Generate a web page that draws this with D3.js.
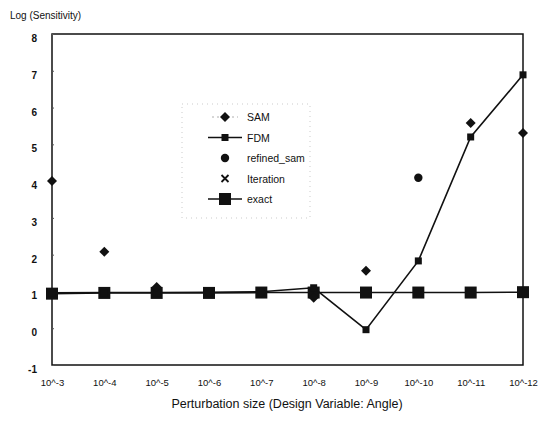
<!DOCTYPE html>
<html><head><meta charset="utf-8">
<script src="https://cdn.jsdelivr.net/npm/d3@7"></script>
<style>body{margin:0;background:#fff}svg{display:block}text{font-family:"Liberation Sans",Arial,sans-serif;fill:#111}</style>
</head><body><svg id="c" width="553" height="423"></svg>
<script>
const categories = ["10^-3","10^-4","10^-5","10^-6","10^-7","10^-8","10^-9","10^-10","10^-11","10^-12"];
const samValues = [4.0, 2.08, 1.12, 0.97, 0.98, 0.83, 1.56, null, 5.58, 5.31];
const fdmValues = [0.96, 0.97, 0.97, 0.98, 0.99, 1.1, -0.04, 1.83, 5.2, 6.89];
const refinedSamValues = [null, null, null, null, null, null, null, 4.09, null, null];
const iterationValues = [0.96, 0.97, 0.97, 0.97, 0.98, 0.98, 0.97, 0.97, 0.97, 0.97];
const exactValues = [0.94, 0.96, 0.96, 0.96, 0.97, 0.97, 0.97, 0.97, 0.97, 0.98];
const yTicks = [-1,0,1,2,3,4,5,6,7,8];
const tickLabels = ["10^-3","10^-4","10^-5","10^-6","10^-7","10^-8","10^-9","10^-10","10^-11","10^-12"];
const legendNames = ["SAM","FDM","refined_sam","Iteration","exact"];

const svg = d3.select("#c");
const L=52,R=523,T=34,B=365;
const x = d3.scalePoint().domain(categories).range([L,R]);
const y = d3.scaleLinear().domain([-1,8]).range([B,T]);

svg.append("rect").attr("x",L).attr("y",T).attr("width",R-L).attr("height",B-T)
  .attr("fill","none").attr("stroke","#111").attr("stroke-width",1.5);

const ya = svg.append("g").attr("transform",`translate(${L},0)`)
  .call(d3.axisRight(y).tickValues(yTicks).tickSize(2).tickFormat(""));
ya.select(".domain").remove();
ya.selectAll("line").attr("stroke","#555");
svg.append("g").selectAll("text").data(yTicks).join("text")
  .attr("x",37).attr("y",d=>y(d)+8).attr("text-anchor","end")
  .style("font-size","10px").style("font-weight","bold").text(d=>d);

const xa = svg.append("g").attr("transform",`translate(0,${B})`)
  .call(d3.axisBottom(x).tickSize(0).tickPadding(14).tickFormat((d,i)=>tickLabels[i]));
xa.select(".domain").remove();
xa.selectAll("text").style("font-size","9.5px").style("font-family","'Liberation Sans',Arial,sans-serif").attr("fill","#111");

svg.append("text").attr("x",10).attr("y",19).style("font-size","10px").text("Log (Sensitivity)");
svg.append("text").attr("x",287).attr("y",408).attr("text-anchor","middle").style("font-size","12.5px")
  .text("Perturbation size (Design Variable: Angle)");

const line = d3.line().defined(d=>d[1]!=null).x(d=>x(d[0])).y(d=>y(d[1]));
const pts = vals => categories.map((c,i)=>[c,vals[i]]);

svg.append("path").attr("d",line(pts(exactValues))).attr("fill","none").attr("stroke","#111").attr("stroke-width",1.6);
svg.append("path").attr("d",line(pts(fdmValues))).attr("fill","none").attr("stroke","#111").attr("stroke-width",1.6);

function marker(g,type,cx,cy){
  if(type==="diamond") g.append("path").attr("d",`M${cx},${cy-5}L${cx+5},${cy}L${cx},${cy+5}L${cx-5},${cy}Z`).attr("fill","#111");
  else if(type==="sq") g.append("rect").attr("x",cx-3.5).attr("y",cy-3.5).attr("width",7).attr("height",7).attr("fill","#111");
  else if(type==="big") g.append("rect").attr("x",cx-6).attr("y",cy-6).attr("width",12).attr("height",12).attr("fill","#111");
  else if(type==="circle") g.append("circle").attr("cx",cx).attr("cy",cy).attr("r",4.2).attr("fill","#111");
  else if(type==="x") g.append("path").attr("d",`M${cx-3.5},${cy-3.5}L${cx+3.5},${cy+3.5}M${cx+3.5},${cy-3.5}L${cx-3.5},${cy+3.5}`).attr("stroke","#111").attr("stroke-width",1.8);
}
const g = svg.append("g");
pts(iterationValues).forEach(d=>{if(d[1]!=null) marker(g,"x",x(d[0]),y(d[1]));});
pts(exactValues).forEach(d=>marker(g,"big",x(d[0]),y(d[1])));
pts(fdmValues).forEach(d=>marker(g,"sq",x(d[0]),y(d[1])));
pts(samValues).forEach(d=>{if(d[1]!=null) marker(g,"diamond",x(d[0]),y(d[1]));});
pts(refinedSamValues).forEach(d=>{if(d[1]!=null) marker(g,"circle",x(d[0]),y(d[1]));});

const lg = svg.append("g");
lg.append("rect").attr("x",182).attr("y",104).attr("width",128).attr("height",114)
  .attr("fill","none").attr("stroke","#aaa").attr("stroke-width",0.6).attr("stroke-dasharray","1,4");
const types=["diamond","sq","circle","x","big"];
const lines=[false,true,false,false,true];
legendNames.forEach((n,i)=>{
  const cy=117+i*20.5;
  if(lines[i]) lg.append("line").attr("x1",208).attr("x2",242).attr("y1",cy).attr("y2",cy).attr("stroke","#111").attr("stroke-width",1.6);
  else if(i===0) lg.append("line").attr("x1",212).attr("x2",238).attr("y1",cy).attr("y2",cy).attr("stroke","#999").attr("stroke-width",0.8).attr("stroke-dasharray","2,3");
  marker(lg,types[i],225,cy);
  lg.append("text").attr("x",247).attr("y",cy+4).style("font-size","10.5px").text(n);
});
</script></body></html>
